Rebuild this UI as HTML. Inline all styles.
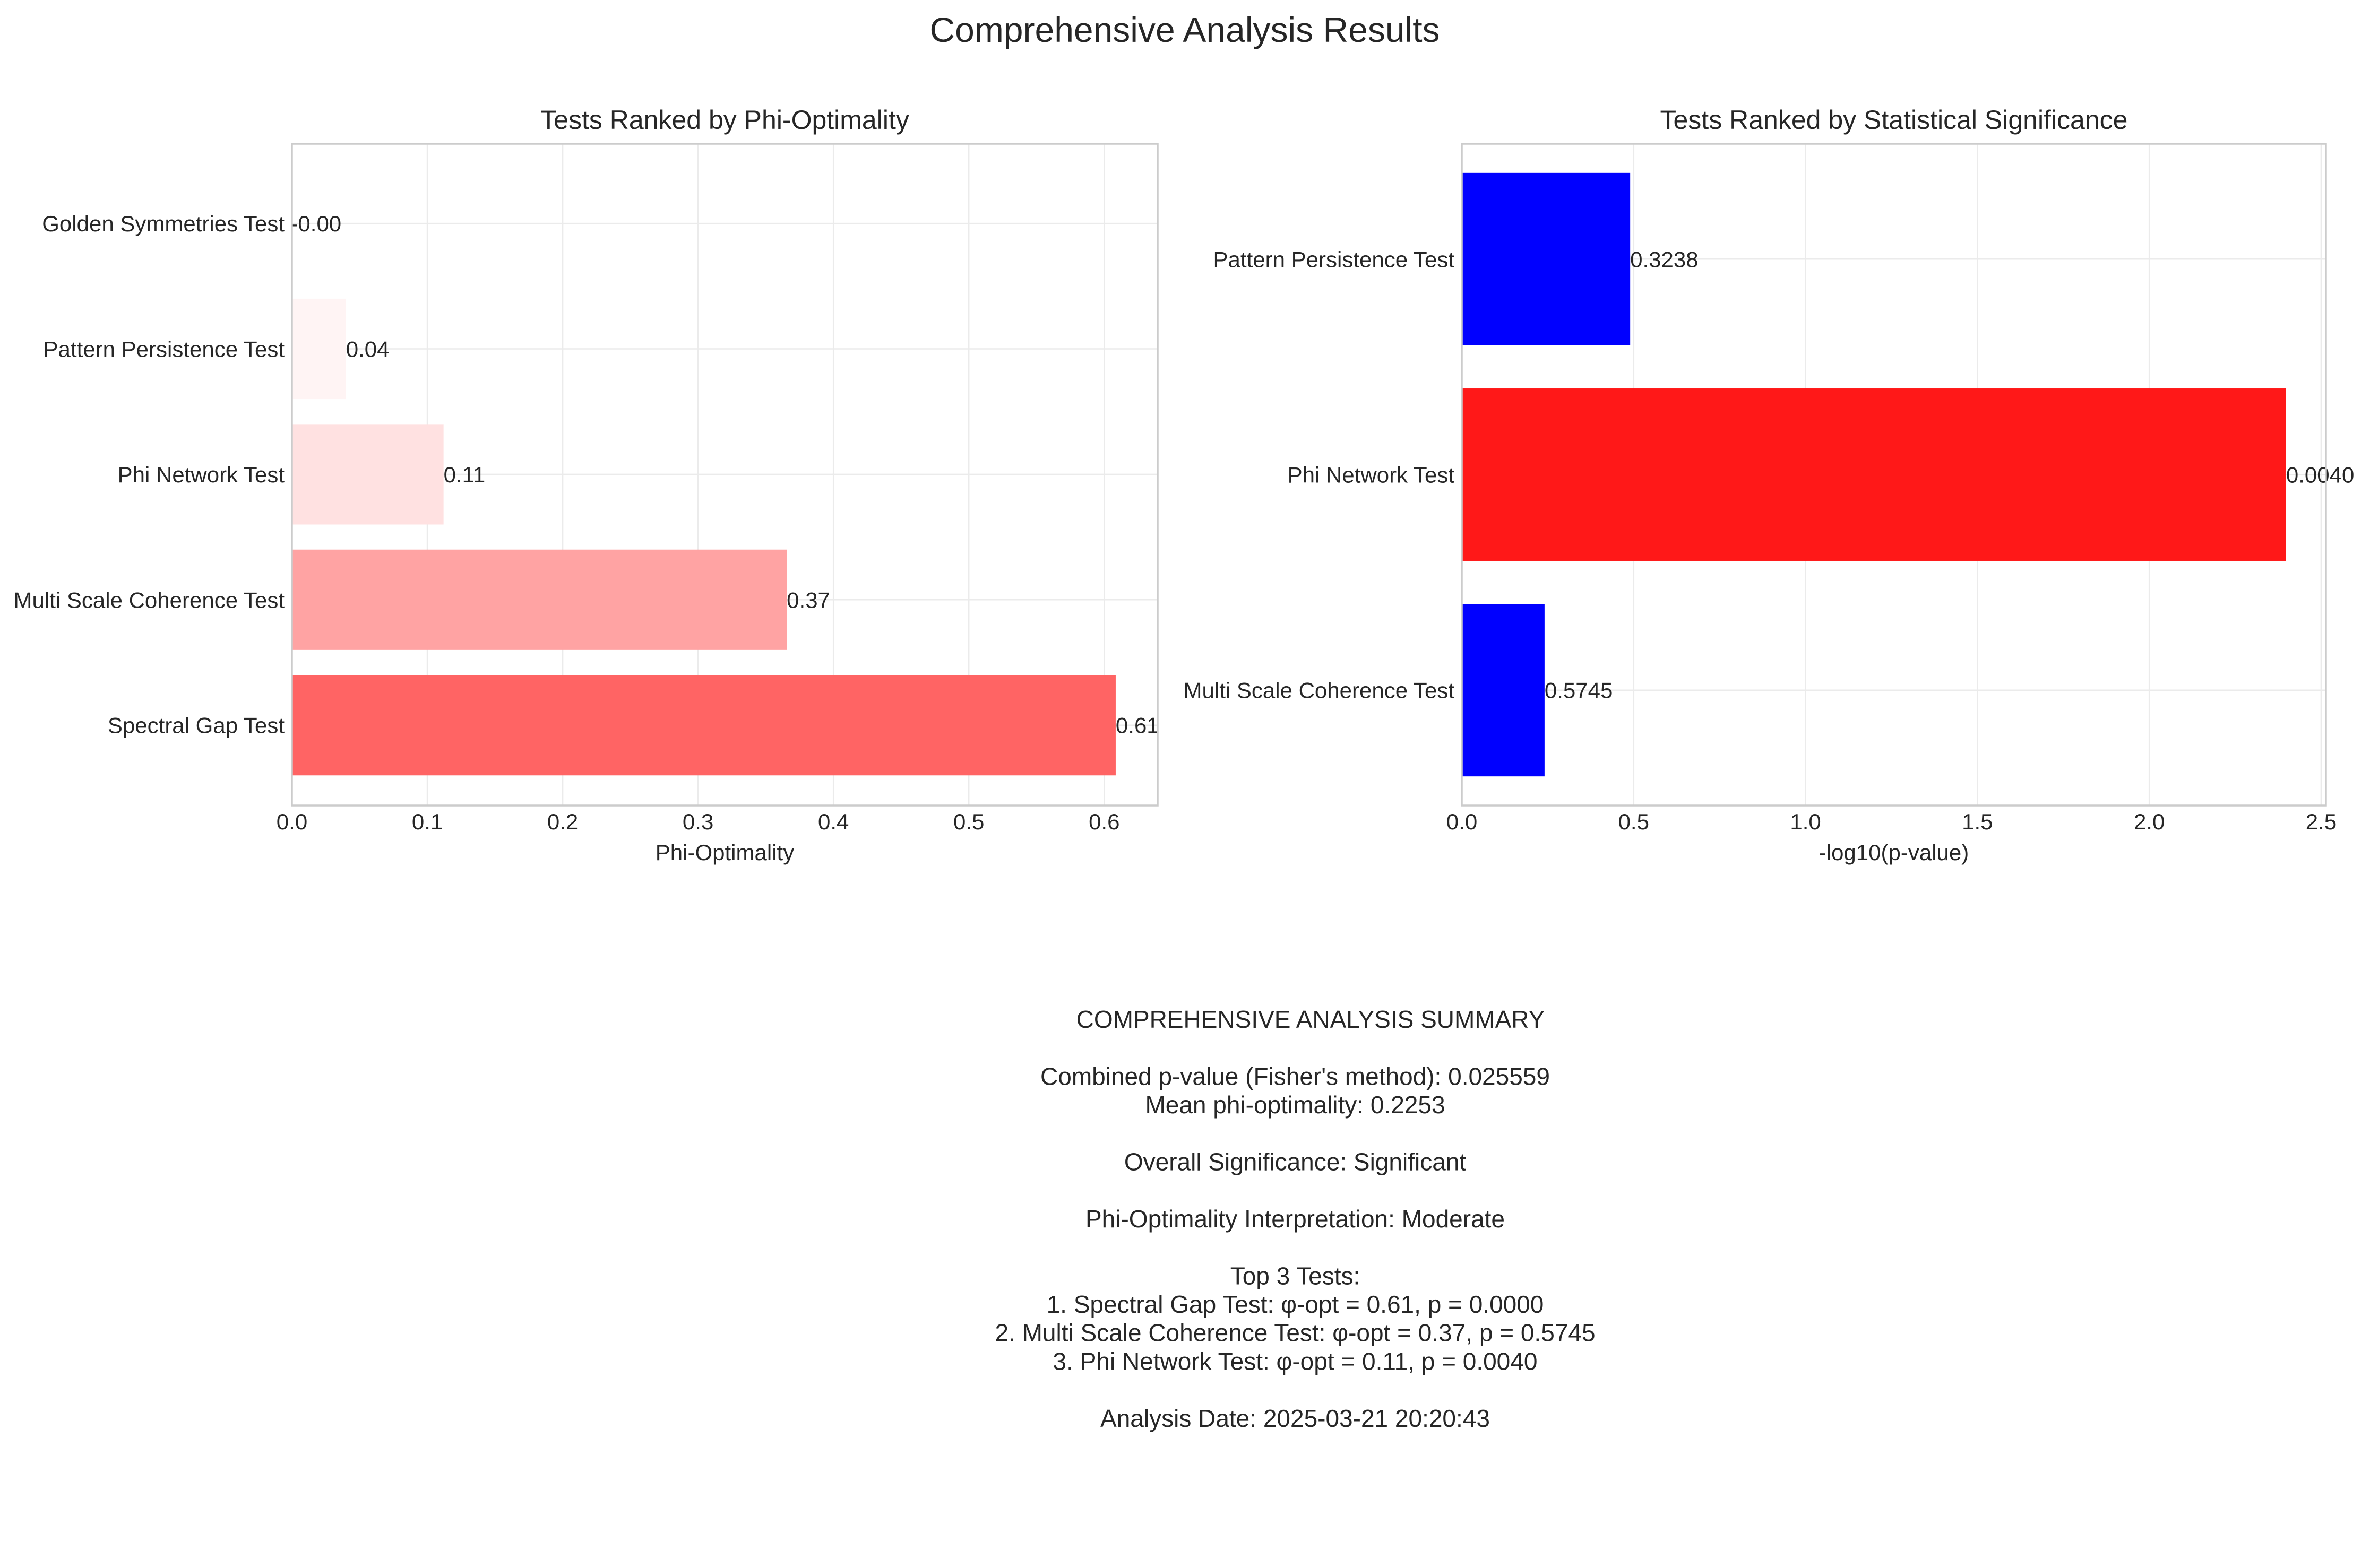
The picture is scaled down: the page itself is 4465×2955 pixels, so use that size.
<!DOCTYPE html>
<html><head><meta charset="utf-8"><style>
html,body{margin:0;padding:0;background:#fff;}
svg{display:block;font-family:"Liberation Sans",Arial,sans-serif;}
</style></head><body>
<svg id="fig" width="4465" height="2955" viewBox="0 0 4465 2955" xmlns="http://www.w3.org/2000/svg">
<rect width="4465" height="2955" fill="#fff"/>
<text x="2232" y="79" font-size="66" fill="#262626" text-anchor="middle">Comprehensive Analysis Results</text>
<g id="left"></g>
<g id="right"></g>
<g id="summary" font-size="46" fill="#262626" text-anchor="middle"></g>
</svg>
<script>
const phiCategories = ["Spectral Gap Test","Multi Scale Coherence Test","Phi Network Test","Pattern Persistence Test","Golden Symmetries Test"];
const phiValues = [0.6085, 0.3655, 0.112, 0.0399, -0.001];
const phiLabels = ["0.61","0.37","0.11","0.04","-0.00"];
const phiColors = ["#ff6464","#ffa3a3","#ffe1e1","#fff4f4","#ffffff"];
const phiTicks = [0,0.1,0.2,0.3,0.4,0.5,0.6];

const sigCategories = ["Multi Scale Coherence Test","Phi Network Test","Pattern Persistence Test"];
const sigValues = [0.2407, 2.398, 0.4898];
const sigLabels = ["0.5745","0.0040","0.3238"];
const sigColors = ["#0000ff","#ff1818","#0000ff"];
const sigTicks = [0,0.5,1.0,1.5,2.0,2.5];

const summaryLines = ["COMPREHENSIVE ANALYSIS SUMMARY","","Combined p-value (Fisher's method): 0.025559","Mean phi-optimality: 0.2253","","Overall Significance: Significant","","Phi-Optimality Interpretation: Moderate","","Top 3 Tests:","1. Spectral Gap Test: φ-opt = 0.61, p = 0.0000","2. Multi Scale Coherence Test: φ-opt = 0.37, p = 0.5745","3. Phi Network Test: φ-opt = 0.11, p = 0.0040","","Analysis Date: 2025-03-21 20:20:43"];

const NS = "http://www.w3.org/2000/svg";
function mk(parent, tag, attrs, txt){
  const e = document.createElementNS(NS, tag);
  for (const k in attrs) e.setAttribute(k, attrs[k]);
  if (txt !== undefined) e.textContent = txt;
  parent.appendChild(e);
  return e;
}

function drawChart(g, cfg){
  const {L,R,T,B,xmin,xmax,ymin,ymax,cats,vals,labels,colors,ticks,title,xlabel,tickFmt} = cfg;
  const X = v => L + (v - xmin) / (xmax - xmin) * (R - L);
  const Y = v => B - (v - ymin) / (ymax - ymin) * (B - T);
  const unit = (B - T) / (ymax - ymin);
  ticks.forEach(t => {
    const gl = mk(g, "line", {x1:X(t), x2:X(t), y1:T, y2:B, stroke:"#ebebeb", "stroke-width":2.5});
    
    
    const tl = mk(g, "text", {x:X(t), y:B+45, "font-size":42, fill:"#262626", "text-anchor":"middle"}, tickFmt(t));
    
    
  });
  cats.forEach((c, i) => {
    const gl = mk(g, "line", {x1:L, x2:R, y1:Y(i), y2:Y(i), stroke:"#ebebeb", "stroke-width":2.5});
    
    
  });
  cats.forEach((c, i) => {
    const h = 0.8 * unit;
    const x0 = X(Math.min(0, vals[i])), x1 = X(Math.max(0, vals[i]));
    const bar = mk(g, "rect", {x:x0, y:Y(i)-h/2, width:Math.max(0,x1-x0), height:h, fill:colors[i]});
    
    
    const vl = mk(g, "text", {x:X(vals[i]), y:Y(i)+15, "font-size":42, fill:"#262626"}, labels[i]);
    
    
    const yl = mk(g, "text", {x:L-14, y:Y(i)+15, "font-size":42, fill:"#262626", "text-anchor":"end"}, c);
    
    
  });
  const fr = mk(g, "rect", {x:L, y:T, width:R-L, height:B-T, fill:"none", stroke:"#cccccc", "stroke-width":3.5});
  
  
  const tt = mk(g, "text", {x:(L+R)/2, y:T-28, "font-size":50, fill:"#262626", "text-anchor":"middle"}, title);
  
  
  const xl = mk(g, "text", {x:(L+R)/2, y:B+103, "font-size":42, fill:"#262626", "text-anchor":"middle"}, xlabel);
  
  
}

drawChart(document.getElementById("left"), {
  L:550, R:2181, T:271, B:1518, xmin:0, xmax:0.6395, ymin:-0.64, ymax:4.635,
  cats:phiCategories, vals:phiValues, labels:phiLabels, colors:phiColors, ticks:phiTicks,
  title:"Tests Ranked by Phi-Optimality", xlabel:"Phi-Optimality", tickFmt:t=>t.toFixed(1)
});
drawChart(document.getElementById("right"), {
  L:2754, R:4382, T:271, B:1518, xmin:0, xmax:2.514, ymin:-0.535, ymax:2.535,
  cats:sigCategories, vals:sigValues, labels:sigLabels, colors:sigColors, ticks:sigTicks,
  title:"Tests Ranked by Statistical Significance", xlabel:"-log10(p-value)", tickFmt:t=>t.toFixed(1)
});

const sg = document.getElementById("summary");
summaryLines.forEach((s, i) => {
  if (!s) return;
  const t = mk(sg, "text", {x:(i === 0 ? 2469 : 2440), y:1937 + i*53.7}, s);
  
  
});
</script>
</body></html>
